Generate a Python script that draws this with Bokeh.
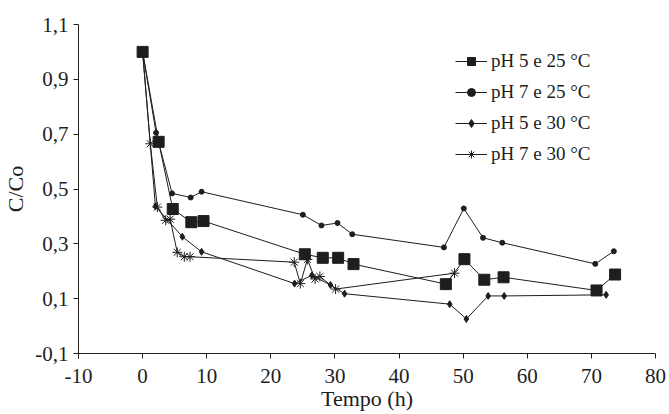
from bokeh.plotting import figure
from bokeh.models import Range1d, FixedTicker, Legend, LegendItem
from bokeh.embed import file_html
from bokeh.resources import INLINE

# ---- data ----
x_ph5_25 = [0, 2.5, 4.7, 7.6, 9.5, 25.3, 28.1, 30.5, 32.9, 47.3, 50.2, 53.3, 56.3, 70.8, 73.7]
y_ph5_25 = [1.0, 0.672, 0.427, 0.379, 0.383, 0.262, 0.249, 0.249, 0.226, 0.153, 0.244, 0.169, 0.178, 0.130, 0.188]

x_ph7_25 = [0, 2.1, 4.6, 7.5, 9.2, 25.0, 27.9, 30.4, 32.7, 47.0, 50.1, 53.1, 56.1, 70.6, 73.5]
y_ph7_25 = [1.0, 0.705, 0.484, 0.469, 0.49, 0.406, 0.367, 0.376, 0.335, 0.287, 0.429, 0.322, 0.304, 0.227, 0.273]

x_ph5_30 = [0, 2.0, 6.2, 9.2, 23.7, 26.4, 29.3, 31.5, 47.9, 50.5, 53.9, 56.4, 72.3]
y_ph5_30 = [1.0, 0.437, 0.326, 0.271, 0.155, 0.185, 0.150, 0.118, 0.080, 0.026, 0.110, 0.110, 0.114]

x_ph7_30 = [0, 1.2, 2.3, 3.6, 4.3, 5.4, 6.5, 7.4, 23.65, 24.6, 25.7, 26.9, 27.65, 30.1, 48.65]
y_ph7_30 = [1.0, 0.665, 0.434, 0.386, 0.39, 0.269, 0.253, 0.253, 0.233, 0.155, 0.243, 0.172, 0.181, 0.135, 0.193]

series_names = ["pH 5 e 25 °C", "pH 7 e 25 °C", "pH 5 e 30 °C", "pH 7 e 30 °C"]

x_ticks = [-10, 0, 10, 20, 30, 40, 50, 60, 70, 80]
x_tick_labels = ["-10", "0", "10", "20", "30", "40", "50", "60", "70", "80"]
y_ticks = [-0.1, 0.1, 0.3, 0.5, 0.7, 0.9, 1.1]
y_tick_labels = ["-0,1", "0,1", "0,3", "0,5", "0,7", "0,9", "1,1"]

FONT = "Liberation Serif"
INK = "#1e1e1e"

p = figure(width=667, height=414,
           x_range=Range1d(-10, 80), y_range=Range1d(-0.1, 1.1),
           output_backend="svg", toolbar_location=None,
           min_border_left=78, min_border_right=12,
           min_border_top=24, min_border_bottom=61)

p.outline_line_color = None
p.grid.visible = False
p.background_fill_color = "white"

p.xaxis.ticker = FixedTicker(ticks=x_ticks)
p.yaxis.ticker = FixedTicker(ticks=y_ticks)
p.xaxis.major_label_overrides = {t: s for t, s in zip(x_ticks, x_tick_labels)}
p.yaxis.major_label_overrides = {t: s for t, s in zip(y_ticks, y_tick_labels)}

for ax in (p.xaxis[0], p.yaxis[0]):
    ax.axis_line_color = INK
    ax.major_tick_line_color = INK
    ax.minor_tick_line_color = None
    ax.major_tick_in = 0
    ax.major_tick_out = 5
    ax.major_label_text_font = FONT
    ax.major_label_text_font_size = "21px"
    ax.major_label_text_color = INK
    ax.axis_label_text_font = FONT
    ax.axis_label_text_font_size = "22px"
    ax.axis_label_text_font_style = "normal"
    ax.axis_label_text_color = INK

p.xaxis.axis_label = "Tempo (h)"
p.yaxis.axis_label = "C/Co"
p.xaxis.major_label_standoff = 10
p.xaxis.axis_label_standoff = 0
p.yaxis.major_label_standoff = 5
p.yaxis.axis_label_standoff = 4

lw = 1.0
r1l = p.line(x_ph5_25, y_ph5_25, line_color=INK, line_width=lw)
r1m = p.scatter(x_ph5_25, y_ph5_25, marker="square", size=11, fill_color=INK, line_color=INK)

r2l = p.line(x_ph7_25, y_ph7_25, line_color=INK, line_width=lw)
r2m = p.scatter(x_ph7_25, y_ph7_25, marker="circle", size=5, fill_color=INK, line_color=INK)

r3l = p.line(x_ph5_30, y_ph5_30, line_color=INK, line_width=lw)
r3m = p.scatter(x_ph5_30, y_ph5_30, marker="diamond", size=7, fill_color=INK, line_color=INK)

r4l = p.line(x_ph7_30, y_ph7_30, line_color=INK, line_width=lw)
r4m = p.scatter(x_ph7_30, y_ph7_30, marker="asterisk", size=10, fill_color=None, line_color=INK, line_width=1)

legend = Legend(items=[
    LegendItem(label=series_names[0], renderers=[r1l, r1m]),
    LegendItem(label=series_names[1], renderers=[r2l, r2m]),
    LegendItem(label=series_names[2], renderers=[r3l, r3m]),
    LegendItem(label=series_names[3], renderers=[r4l, r4m]),
], location=(377, 188))
legend.padding = 0
legend.margin = 0
legend.border_line_color = None
legend.background_fill_alpha = 0
legend.glyph_width = 32
legend.glyph_height = 20
legend.label_height = 20
legend.spacing = 9
legend.label_standoff = 4
legend.label_text_font = FONT
legend.label_text_font_size = "19px"
legend.label_text_color = INK
p.add_layout(legend, "center")

open("out.html", "w").write(file_html(p, INLINE))
